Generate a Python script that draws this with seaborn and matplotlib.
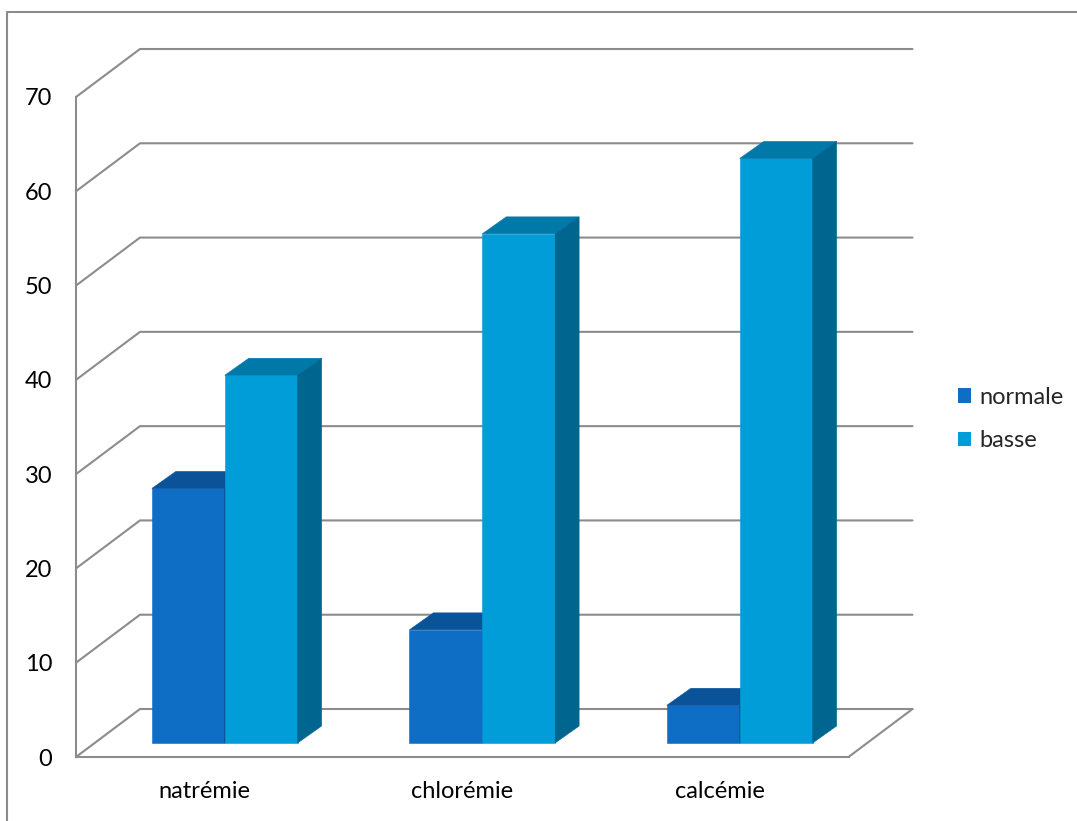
import matplotlib
matplotlib.use("Agg")
import matplotlib.pyplot as plt
from matplotlib import transforms
from matplotlib.patches import Polygon, Patch
from matplotlib.lines import Line2D
import pandas as pd
import seaborn as sns

# ---- data -------------------------------------------------------------
categories = ["natrémie", "chlorémie", "calcémie"]
series = ["normale", "basse"]
normale = [27, 12, 4]
basse = [39, 54, 62]
y_ticks = [0, 10, 20, 30, 40, 50, 60, 70]

df = pd.DataFrame({
    "paramètre": categories * 2,
    "niveau": ["normale"] * len(categories) + ["basse"] * len(categories),
    "pourcentage": normale + basse,
})

# ---- style ------------------------------------------------------------
sns.set_theme(style="white")
plt.rcParams["font.family"] = ["Lato", "DejaVu Sans"]
FS = 17
GRID = "#8c8c8c"
FRONT = ["#0e6dc5", "#009dd9"]
TOP = ["#0b5398", "#0079a8"]
SIDE = ["#0a4a86", "#006690"]

W, H = 1077, 821
fig = plt.figure(figsize=(W / 100, H / 100), dpi=100)
fig.patch.set_facecolor("white")

# pixel geometry of the oblique box
X0, X1 = 76, 912          # front-left axis, back-right wall edge
YB, YT = 757, 48          # front floor, top of back wall
CAT = 257.5               # pixels per category
UNIT = 660 / 70           # pixels per value unit
ax = fig.add_axes([X0 / W, 1 - YB / H, (X1 - X0) / W, (YB - YT) / H])

sns.barplot(data=df, x="paramètre", y="pourcentage", hue="niveau",
            hue_order=series, palette=FRONT, saturation=1, width=0.566,
            gap=0, legend=False, ax=ax, linewidth=0)

# wall depth, in data units
DX, DY = 64 / CAT, 48 / UNIT
ax.set_xlim(-0.5, -0.5 + (X1 - X0) / CAT)
ax.set_ylim(0, (YB - YT) / UNIT)
ax.set_facecolor("white")

# back wall + side wall gridlines
for v in y_ticks:
    ax.plot([-0.5, -0.5 + DX, 2.5 + DX], [v, v + DY, v + DY], color=GRID,
            lw=1.5, zorder=0.5, clip_on=False, solid_joinstyle="miter")
# right edge of the floor
ax.plot([2.5, 2.5 + DX], [0, DY], color=GRID, lw=1.5, zorder=0.5, clip_on=False)

# 3D bars: front face shifted into depth, plus top and side faces
shift = transforms.offset_copy(ax.transData, fig=fig, x=20, y=14, units="dots")
ddx, ddy = 24 / CAT, 17 / UNIT
for k, cont in enumerate(ax.containers):
    for bar in cont:
        bar.set_transform(shift)
        bar.set_zorder(2 + k)
        bar.set_edgecolor(FRONT[k])
        bar.set_linewidth(0.4)
        x, w, h = bar.get_x(), bar.get_width(), bar.get_height()
        top = Polygon([(x, h), (x + w, h), (x + w + ddx, h + ddy), (x + ddx, h + ddy)],
                      closed=True, transform=shift, fc=TOP[k], ec=TOP[k], lw=0.4,
                      zorder=2 + k + 0.1)
        side = Polygon([(x + w, 0), (x + w + ddx, ddy), (x + w + ddx, h + ddy), (x + w, h)],
                       closed=True, transform=shift, fc=SIDE[k], ec=SIDE[k], lw=0.4,
                       zorder=2 + k + 0.1)
        ax.add_patch(top)
        ax.add_patch(side)

# axes
for s in ["top", "right"]:
    ax.spines[s].set_visible(False)
for s in ["left", "bottom"]:
    ax.spines[s].set_color(GRID)
    ax.spines[s].set_linewidth(1.5)
ax.spines["left"].set_bounds(0, 70)
ax.spines["bottom"].set_bounds(-0.5, 2.5)

ax.set_yticks(y_ticks)
ax.set_yticklabels([str(v) for v in y_ticks])
ax.tick_params(axis="y", direction="out", length=5, width=1.2, color=GRID,
               pad=12, labelsize=FS, labelcolor="black")
ax.set_xticks([-0.5, 0.5, 1.5, 2.5])
ax.set_xticklabels([])
ax.set_xticks([0, 1, 2], minor=True)
ax.set_xticklabels(categories, minor=True)
ax.tick_params(axis="x", which="major", direction="out", length=6, width=1.2,
               color=GRID)
ax.tick_params(axis="x", which="minor", length=0, pad=17, labelsize=FS,
               labelcolor="black")
ax.set_xlabel("")
ax.set_ylabel("")

# legend
handles = [Patch(fc=FRONT[0], ec="none"), Patch(fc=FRONT[1], ec="none")]
fig.legend(handles, series, loc="center left", bbox_to_anchor=(958 / W, 1 - 419 / H),
           frameon=False, fontsize=FS, handlelength=0.55, handleheight=0.55,
           handletextpad=0.35, labelspacing=0.95, borderaxespad=0, borderpad=0)

# chart area border
fig.add_artist(Line2D([7 / W, 7 / W, 1], [0, 1 - 12 / H, 1 - 12 / H],
                      transform=fig.transFigure, color=GRID, lw=1.5))

fig.savefig("out.png", dpi=100)
